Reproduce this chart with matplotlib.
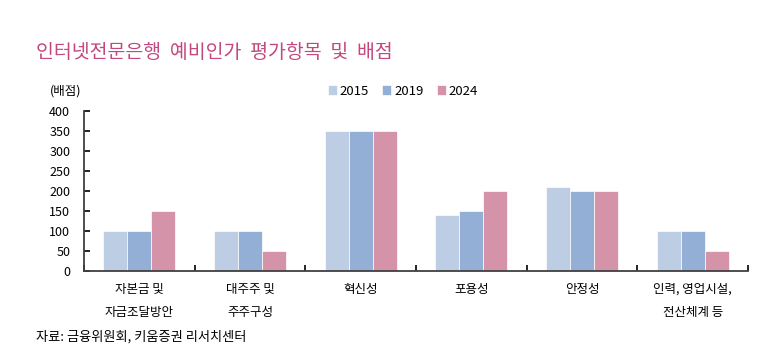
import numpy as np
import matplotlib.pyplot as plt

plt.rcParams['font.family'] = ['Noto Sans CJK KR', 'DejaVu Sans']

categories = ['자본금 및\n자금조달방안', '대주주 및\n주주구성', '혁신성', '포용성', '안정성', '인력, 영업시설,\n전산체계 등']
years = ['2015', '2019', '2024']
v2015 = [100, 100, 350, 140, 210, 100]
v2019 = [100, 100, 350, 150, 200, 100]
v2024 = [150, 50, 350, 200, 200, 50]
colors = ['#BDCDE4', '#93AFD5', '#D493A8']

fig = plt.figure(figsize=(7.58, 3.64), dpi=100)
ax = fig.add_axes([0.111, 0.2555, 0.876, 0.4395])

x = np.arange(len(categories))
w = 0.217
for i, (vals, c, lab) in enumerate(zip([v2015, v2019, v2024], colors, years)):
    ax.bar(x + (i - 1) * w, vals, w, color=c, label=lab, edgecolor='white', linewidth=0.5)

ax.set_xlim(-0.5, len(categories) - 0.5)
ax.set_ylim(0, 400)
ax.set_yticks(range(0, 401, 50))
ax.tick_params(axis='y', direction='in', length=4, labelsize=9, width=1.2, pad=10)
ax.set_xticks(np.arange(-0.5, len(categories) - 0.4, 1))
ax.set_xticklabels([])
ax.tick_params(axis='x', direction='in', length=4, width=1.2)
for xi, lab in zip(x, categories):
    ax.text(xi, -30, lab, ha='center', va='top', fontsize=9, linespacing=2.0)
for s in ['top', 'right']:
    ax.spines[s].set_visible(False)
for s in ['left', 'bottom']:
    ax.spines[s].set_linewidth(1.3)
    ax.spines[s].set_color('#404040')

ax.legend(loc='center', bbox_to_anchor=(0.48, 1.125), ncol=3, frameon=False,
          fontsize=9.5, handlelength=0.7, handleheight=0.7, handletextpad=0.2, columnspacing=1.0)

fig.text(0.047, 0.857, '인터넷전문은행  예비인가  평가항목  및  배점', fontsize=14, color='#C2487F', va='center')
fig.text(0.066, 0.75, '(배점)', fontsize=9, va='center')
fig.text(0.047, 0.074, '자료: 금융위원회, 키움증권 리서치센터', fontsize=9.5, va='center')

fig.savefig('out.png', dpi=100)
